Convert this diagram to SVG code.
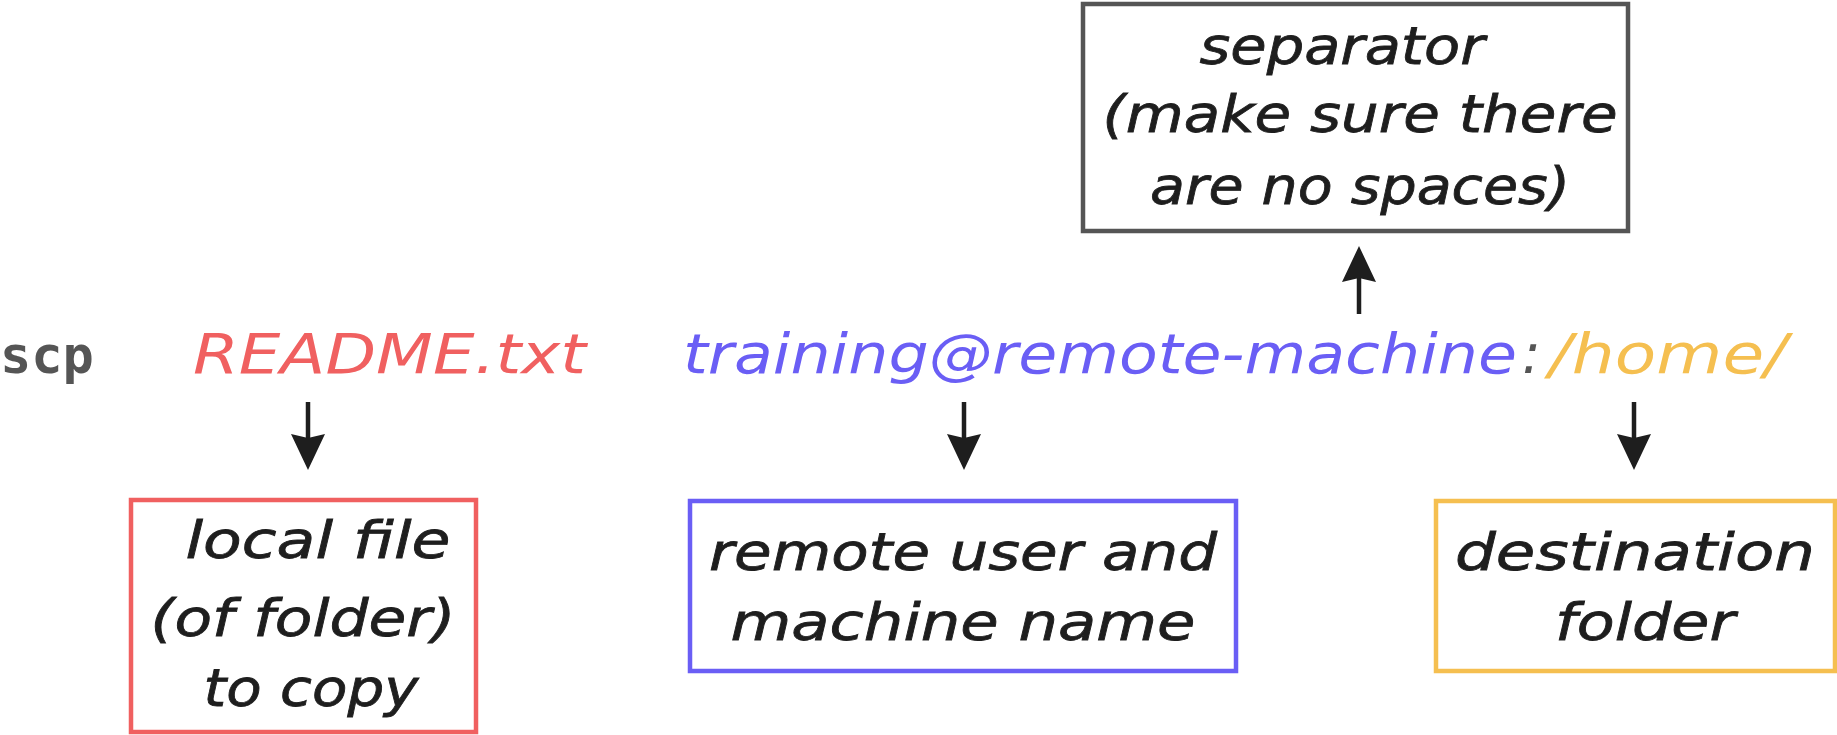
<svg xmlns="http://www.w3.org/2000/svg" width="1837" height="735" viewBox="0 0 1837 735">
<style>
.h{font-family:"DejaVu Sans",sans-serif;font-style:italic;font-size:52px;fill:#1e1e1e;text-anchor:middle;stroke:#1e1e1e;stroke-width:0.8}
.c{font-family:"DejaVu Sans",sans-serif;font-style:italic;font-size:56px}
.box{fill:#fff;stroke-width:4.5}
.ln{stroke:#1e1e1e;stroke-width:4.5;fill:none}
.hd{fill:#1e1e1e}
</style>
<rect width="1837" height="735" fill="#fff"/>
<g id="command">
<text x="0" y="373" font-family="DejaVu Sans Mono,monospace" font-weight="bold" font-size="52" fill="#555">scp</text>
<text class="c" x="193" y="373" fill="#f06060" textLength="393" lengthAdjust="spacingAndGlyphs">README.txt</text>
<text class="c" x="683" y="373" fill="#6a5ef5" textLength="834" lengthAdjust="spacingAndGlyphs">training@remote-machine</text>
<text class="c" x="1522" y="373" fill="#555">:</text>
<text class="c" x="1549" y="373" fill="#f5bf50" textLength="238" lengthAdjust="spacingAndGlyphs">/home/</text>
</g>
<g id="separator">
<rect class="box" x="1083" y="4" width="545" height="227" stroke="#555"/>
<text class="h" x="1342" y="64" textLength="285" lengthAdjust="spacingAndGlyphs">separator</text>
<text class="h" x="1360" y="132" textLength="515" lengthAdjust="spacingAndGlyphs">(make sure there</text>
<text class="h" x="1360" y="204" textLength="420" lengthAdjust="spacingAndGlyphs">are no spaces)</text>
</g>
<g id="local">
<rect class="box" x="131" y="500" width="345" height="232" stroke="#f06060"/>
<text class="h" x="318" y="558" textLength="265" lengthAdjust="spacingAndGlyphs">local file</text>
<text class="h" x="303" y="636" textLength="305" lengthAdjust="spacingAndGlyphs">(of folder)</text>
<text class="h" x="311" y="706" textLength="215" lengthAdjust="spacingAndGlyphs">to copy</text>
</g>
<g id="remote">
<rect class="box" x="690" y="501" width="546" height="170" stroke="#6a5ef5"/>
<text class="h" x="963" y="570" textLength="508" lengthAdjust="spacingAndGlyphs">remote user and</text>
<text class="h" x="963" y="640" textLength="465" lengthAdjust="spacingAndGlyphs">machine name</text>
</g>
<g id="destination">
<rect class="box" x="1436" y="501" width="399" height="170" stroke="#f5bf50"/>
<text class="h" x="1635" y="570" textLength="360" lengthAdjust="spacingAndGlyphs">destination</text>
<text class="h" x="1645" y="640" textLength="180" lengthAdjust="spacingAndGlyphs">folder</text>
</g>
<g id="connectors">
<line class="ln" x1="1359" y1="314" x2="1359" y2="270"/>
<path class="hd" d="M1359,246 L1376,282 L1359,278 L1342,282 Z"/>
<line class="ln" x1="308" y1="402" x2="308" y2="445"/>
<path class="hd" d="M308,470 L325,434 L308,438 L291,434 Z"/>
<line class="ln" x1="964" y1="402" x2="964" y2="445"/>
<path class="hd" d="M964,470 L981,434 L964,438 L947,434 Z"/>
<line class="ln" x1="1634" y1="402" x2="1634" y2="445"/>
<path class="hd" d="M1634,470 L1651,434 L1634,438 L1617,434 Z"/>
</g>
</svg>
